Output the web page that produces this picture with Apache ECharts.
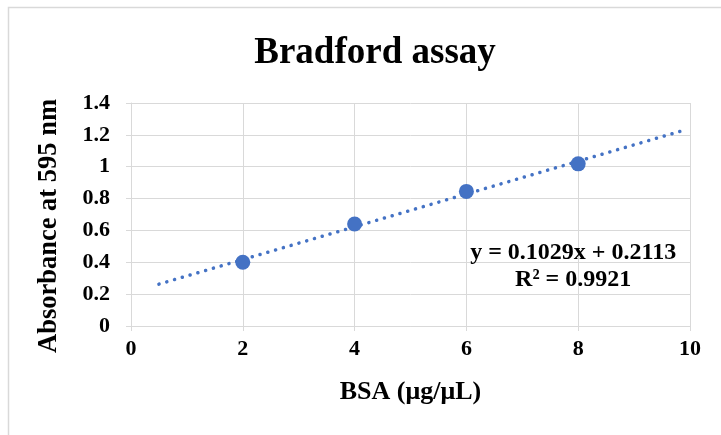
<!DOCTYPE html>
<html>
<head>
<meta charset="utf-8">
<script src="https://cdn.jsdelivr.net/npm/echarts@6/dist/echarts.min.js"></script>
<style>
html,body{margin:0;padding:0;background:#fff;}
#chart{width:721px;height:435px;}
</style>
</head>
<body>
<div id="chart"></div>
<script>
// Data
const bsaConc = [2, 4, 6, 8];
const absorbance = [0.40, 0.64, 0.845, 1.018];
// Linear trendline endpoints (Excel trendline, y = 0.1029x + 0.2113, drawn from x=0.5 to x≈9.9)
const trendX = [0.5, 9.9];
const trendY = [0.2628, 1.2300];
const equationLines = ['y = 0.1029x + 0.2113', 'R² = 0.9921'];
const xTicks = [0, 2, 4, 6, 8, 10];
const yTicks = [0, 0.2, 0.4, 0.6, 0.8, 1, 1.2, 1.4];

const FONT = '"Liberation Serif", "Times New Roman", serif';
const BLUE = '#4472C4';
const GRID = '#D9D9D9';

const chart = echarts.init(document.getElementById('chart'), null, {renderer: 'canvas'});

const option = {
  backgroundColor: '#fff',
  animation: false,
  title: {
    text: 'Bradford assay',
    left: 370,
    top: 30,
    textAlign: 'center',
    textStyle: {fontFamily: FONT, fontWeight: 'bold', fontSize: 37, color: '#000'}
  },
  grid: {left: 131, right: 31, top: 103, bottom: 109, containLabel: false},
  xAxis: {
    type: 'value',
    min: xTicks[0], max: xTicks[xTicks.length - 1], interval: 2,
    name: 'BSA (μg/μL)',
    nameLocation: 'middle',
    nameGap: 53,
    nameTextStyle: {fontFamily: FONT, fontWeight: 'bold', fontSize: 26, color: '#000'},
    axisLine: {show: true, lineStyle: {color: GRID, width: 1}},
    axisTick: {show: true, inside: false, length: 5, lineStyle: {color: GRID}},
    axisLabel: {fontFamily: FONT, fontWeight: 'bold', fontSize: 22, color: '#000', margin: 12},
    splitLine: {show: true, lineStyle: {color: GRID, width: 1}}
  },
  yAxis: {
    type: 'value',
    min: yTicks[0], max: yTicks[yTicks.length - 1], interval: 0.2,
    name: 'Absorbance at 595 nm',
    nameLocation: 'middle',
    nameGap: 68,
    nameTextStyle: {fontFamily: FONT, fontWeight: 'bold', fontSize: 26.5, color: '#000',
      padding: [0, 23, 0, 0]},
    axisLine: {show: true, lineStyle: {color: GRID, width: 1}},
    axisTick: {show: true, inside: false, length: 5, lineStyle: {color: GRID}},
    axisLabel: {fontFamily: FONT, fontWeight: 'bold', fontSize: 22, color: '#000', margin: 21,
      formatter: v => String(Math.round(v * 10) / 10)},
    splitLine: {show: true, lineStyle: {color: GRID, width: 1}}
  },
  series: [
    {
      type: 'line',
      data: trendX.map((x, i) => [x, trendY[i]]),
      symbol: 'none',
      silent: true,
      lineStyle: {color: BLUE, width: 3.5, type: [0.1, 8], cap: 'round'},
      z: 2
    },
    {
      type: 'scatter',
      data: bsaConc.map((x, i) => [x, absorbance[i]]),
      symbol: 'circle',
      symbolSize: 15,
      itemStyle: {color: BLUE, opacity: 1},
      z: 3
    }
  ]
};
chart.setOption(option);

// Equation label anchored in data coordinates
const anchor = chart.convertToPixel({gridIndex: 0}, [7.91, 0.373]);
chart.setOption({
  graphic: [
    {
      type: 'rect',
      shape: {x: 8.5, y: 7.5, width: 800, height: 600},
      style: {fill: 'none', stroke: GRID, lineWidth: 1.5},
      silent: true, z: -10
    },
    {
      type: 'text',
      x: anchor[0], y: anchor[1],
      style: {
        text: equationLines.join('\n'),
        fontFamily: FONT, fontWeight: 'bold', fontSize: 24, fill: '#000',
        align: 'center', verticalAlign: 'middle', lineHeight: 27
      },
      z: 10
    }
  ]
});
</script>
</body>
</html>
